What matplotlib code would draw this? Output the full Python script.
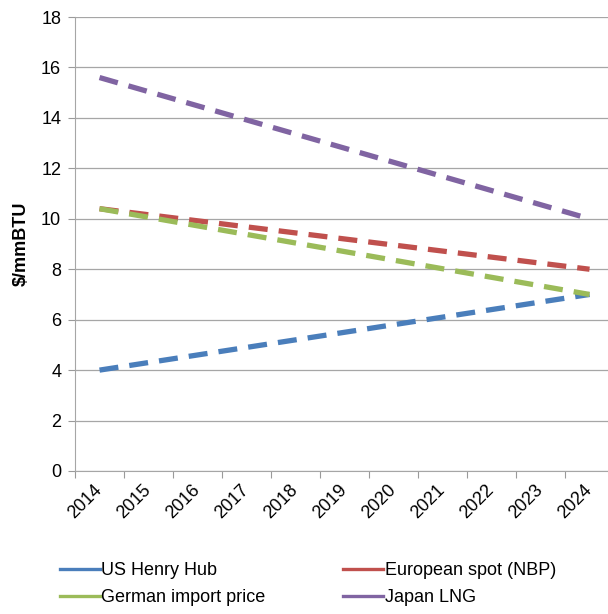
import matplotlib
matplotlib.use("Agg")
import matplotlib.pyplot as plt

years = ["2014", "2015", "2016", "2017", "2018", "2019", "2020", "2021", "2022", "2023", "2024"]

# only the end points are shown in the chart (straight dashed projections)
end_years = ["2014", "2024"]
henry_hub = [4.0, 7.0]
nbp = [10.4, 8.0]
german = [10.4, 7.0]
japan = [15.6, 10.0]

series = [
    ("US Henry Hub", henry_hub, "#4a7ebb"),
    ("European spot (NBP)", nbp, "#c0504d"),
    ("German import price", german, "#9bbb59"),
    ("Japan LNG", japan, "#8064a2"),
]

plt.rcParams["font.family"] = ["Liberation Sans", "DejaVu Sans"]

fig = plt.figure(figsize=(6.08, 6.14), dpi=100)
ax = fig.add_axes([0.1234, 0.2329, 0.8865, 0.7394])

x_end = [years.index(y) for y in end_years]
for name, vals, color in series:
    ax.plot(x_end, vals, color=color, lw=3.8, ls=(0, (3.6, 2.1)),
            solid_capstyle="butt", dash_capstyle="butt", label=name, zorder=3)

ax.set_xlim(-0.5, len(years) - 0.5)
ax.set_ylim(0, 18)
ax.set_yticks(range(0, 19, 2))
ax.tick_params(axis="y", labelsize=13, length=5, color="#9a9a9a", pad=5)

# category axis: ticks between categories, labels in the middle
ax.set_xticks([i - 0.5 for i in range(len(years) + 1)])
ax.set_xticklabels([])
ax.set_xticks(range(len(years)), minor=True)
ax.set_xticklabels(years, minor=True, rotation=45, ha="right", va="center",
                   rotation_mode="anchor", fontsize=13)
ax.tick_params(axis="x", which="major", length=5, color="#9a9a9a")
ax.tick_params(axis="x", which="minor", length=0, pad=12)

ax.grid(axis="y", color="#a6a6a6", lw=0.9)
ax.set_axisbelow(True)
for s in ["top", "right"]:
    ax.spines[s].set_visible(False)
ax.spines["left"].set_color("#a6a6a6")
ax.spines["bottom"].set_color("#a6a6a6")

ax.set_ylabel("$/mmBTU", fontsize=13, fontweight="bold", labelpad=8)

# legend fills column by column, so reorder to read row-wise
order = [0, 2, 1, 3]
handles = [plt.Line2D([], [], color=series[i][2], lw=2.4) for i in order]
labels = [series[i][0] for i in order]
fig.legend(handles, labels, ncol=2, loc="lower left", bbox_to_anchor=(0.085, 0.0),
           frameon=False, fontsize=13, handlelength=2.2, handletextpad=0.1,
           columnspacing=4.3, labelspacing=0.55, borderaxespad=0.05)

fig.savefig("out.png", dpi=100)
